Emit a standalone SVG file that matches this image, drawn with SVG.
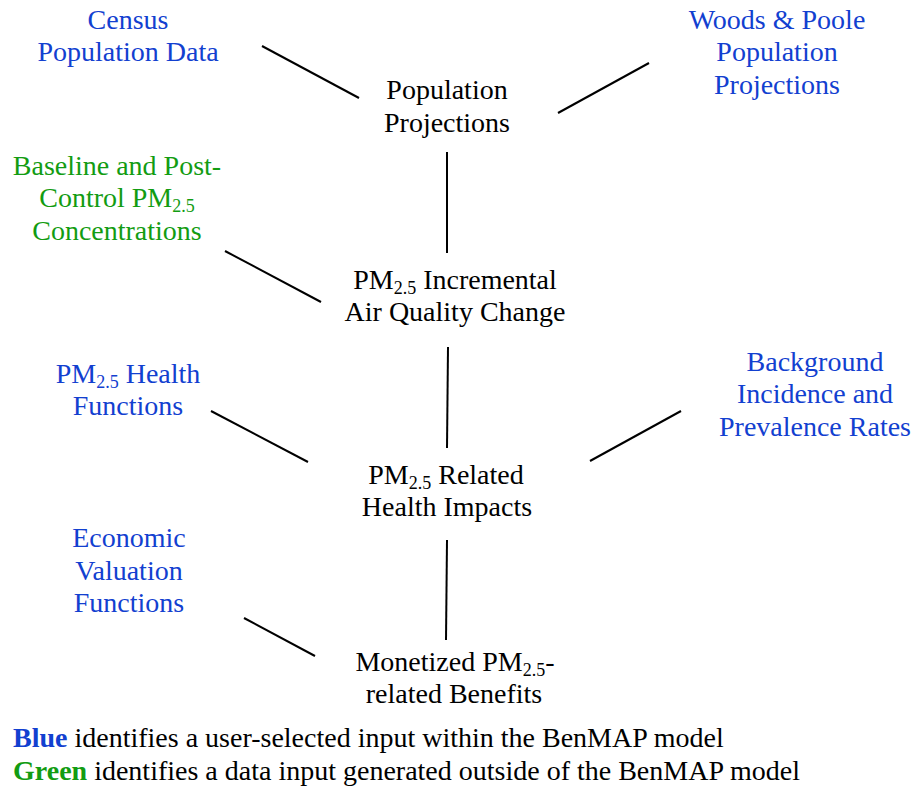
<svg xmlns="http://www.w3.org/2000/svg" width="912" height="788" viewBox="0 0 912 788">
<style>
text{font-family:"Liberation Serif","Times New Roman",serif;font-size:28px;text-anchor:middle}
.b{fill:#1240d0}
.g{fill:#129c12}
.k{fill:#000}
.s{font-size:18px}
.lg{text-anchor:start}
.bold{font-weight:bold}
#connectors line{stroke:#000;stroke-width:2}
</style>
<rect width="912" height="788" fill="#fff"/>
<g id="connectors">
<line x1="262" y1="46" x2="359" y2="98"/>
<line x1="558" y1="113" x2="649" y2="63"/>
<line x1="447" y1="152" x2="447" y2="253"/>
<line x1="225" y1="251" x2="321" y2="302"/>
<line x1="448" y1="347" x2="447" y2="448"/>
<line x1="211" y1="411" x2="308" y2="462"/>
<line x1="590" y1="461" x2="681" y2="411"/>
<line x1="447" y1="540" x2="446" y2="640"/>
<line x1="244" y1="618" x2="315" y2="656"/>
</g>
<g id="census" class="b"><text x="128" y="29">Census</text><text x="128" y="61">Population Data</text></g>
<g id="popproj" class="k"><text x="447" y="99">Population</text><text x="447" y="132">Projections</text></g>
<g id="woods" class="b"><text x="777" y="29">Woods &amp; Poole</text><text x="777" y="61">Population</text><text x="777" y="94">Projections</text></g>
<g id="baseline" class="g"><text x="117" y="175">Baseline and Post-</text><text x="117" y="207">Control PM<tspan class="s" dy="5">2.5</tspan></text><text x="117" y="240">Concentrations</text></g>
<g id="aqchange" class="k"><text x="455" y="289">PM<tspan class="s" dy="5">2.5</tspan><tspan dy="-5"> Incremental</tspan></text><text x="455" y="321">Air Quality Change</text></g>
<g id="healthfn" class="b"><text x="128" y="383">PM<tspan class="s" dy="5">2.5</tspan><tspan dy="-5"> Health</tspan></text><text x="128" y="415">Functions</text></g>
<g id="background" class="b"><text x="815" y="371">Background</text><text x="815" y="403">Incidence and</text><text x="815" y="436">Prevalence Rates</text></g>
<g id="impacts" class="k"><text x="446" y="484">PM<tspan class="s" dy="5">2.5</tspan><tspan dy="-5"> Related</tspan></text><text x="447" y="516">Health Impacts</text></g>
<g id="econ" class="b"><text x="129" y="547">Economic</text><text x="129" y="580">Valuation</text><text x="129" y="612">Functions</text></g>
<g id="benefits" class="k"><text x="455" y="671">Monetized PM<tspan class="s" dy="5">2.5</tspan><tspan dy="-5">-</tspan></text><text x="454" y="703">related Benefits</text></g>
<g id="legend">
<text class="lg k" x="13" y="747"><tspan class="b bold">Blue</tspan> identifies a user-selected input within the BenMAP model</text>
<text class="lg k" x="13" y="780"><tspan class="g bold">Green</tspan> identifies a data input generated outside of the BenMAP model</text>
</g>
</svg>
